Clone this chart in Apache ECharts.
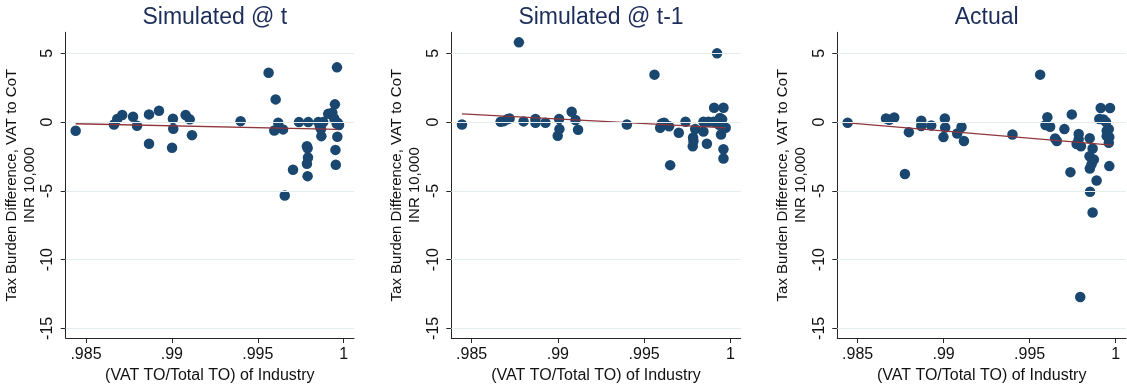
<!DOCTYPE html>
<html>
<head>
<meta charset="utf-8">
<script src="https://cdn.jsdelivr.net/npm/echarts@6/dist/echarts.min.js"></script>
<style>
  html, body { margin: 0; padding: 0; background: #fff; }
  #chart { width: 1127px; height: 385px; }
</style>
</head>
<body>
<div id="chart"></div>
<script>
// panel titles
const titles = ['Simulated @ t', 'Simulated @ t-1', 'Actual'];
const xTicks = [0.985, 0.99, 0.995, 1];
const yTicks = [-15, -10, -5, 0, 5];

// Simulated @ t
const simTx = [.98440, .98663, .98682, .98711, .98774, .98797, .98867, .98867, .98925, .99006, .99008, .99001, .99080, .99104, .99117, .99400, .99563, .99604, .99619, .99596, .99647, .99657, .99705, .99740, .99786, .99790, .99792, .99786, .99790, .99794, .99852, .99862, .99881, .99868, .99870, .99910, .99934, .99949, .99945, .99959, .99973, .99963, .99952, .99954, .99965, .99961];
const simTy = [-0.63, -0.17, 0.22, 0.51, 0.39, -0.27, 0.56, -1.58, 0.82, 0.24, -0.49, -1.87, 0.51, 0.2, -0.95, 0.07, 3.59, 1.65, -0.05, -0.61, -0.53, -5.34, -3.47, 0.0, -1.75, -1.9, -2.57, -3.03, -3.93, 0.0, 0.0, -0.34, 0.0, -0.5, -1.02, 0.6, 0.68, 1.29, 0.27, -0.1, -0.22, -1.07, -2.02, -3.1, -0.05, 3.98];
const simTfit = [[.98440, -0.12], [.99965, -0.53]];

// Simulated @ t-1
const simT1x = [.98444, .98668, .98687, .98706, .98720, .98774, .98801, .98870, .98870, .98928, .99007, .99009, .98999, .99080, .99102, .99117, .99400, .99560, .99923, .99593, .99603, .99616, .99645, .99651, .99701, .99740, .99796, .99784, .99786, .99782, .99844, .99873, .99902, .99844, .99864, .99906, .99960, .99940, .99952, .99946, .99960, .99960, .99973, .99925, .99935];
const simT1y = [-0.17, 0.02, 0.07, 0.2, 0.27, 5.8, 0.05, 0.22, -0.05, -0.05, 0.22, -0.51, -1.0, 0.75, 0.15, -0.56, -0.17, 3.45, 5.0, -0.41, -0.1, -0.05, -0.31, -3.13, -0.78, 0.02, -0.51, -1.12, -1.38, -1.75, 0.02, 0.02, 0.02, -0.68, -1.58, 1.04, 1.04, 0.3, 0.2, -0.9, -1.97, -2.65, -0.41, 0.0, -0.2];
const simT1fit = [[.98444, 0.6], [.99973, -0.42]];

// Actual
const actX = [.98442, .98665, .98684, .98713, .98775, .98798, .98870, .98870, .98928, .99007, .99009, .98999, .99079, .99104, .99118, .99400, .99561, .99603, .99592, .99619, .99648, .99658, .99702, .99745, .99737, .99785, .99785, .99773, .99798, .99794, .99849, .99866, .99848, .99873, .99860, .99850, .99889, .99851, .99866, .99913, .99967, .99905, .99929, .99944, .99948, .99960, .99963, .99960, .99948, .99963];
const actY = [-0.05, 0.27, 0.17, 0.34, -3.77, -0.73, 0.1, -0.29, -0.24, 0.27, -0.39, -1.09, -0.83, -0.36, -1.38, -0.9, 3.45, 0.36, -0.22, -0.34, -1.19, -1.38, -0.51, 0.56, -3.64, -0.87, -1.24, -1.6, -1.75, -12.72, -1.17, -1.92, -2.48, -2.72, -3.06, -3.37, -4.25, -5.07, -6.58, 1.02, 1.02, 0.22, 0.19, 0.0, -0.63, -0.51, -1.09, -1.51, -1.02, -3.2];
const actFit = [[.98442, -0.05], [.99977, -1.68]];

const panels = [
  { x: simTx, y: simTy, fit: simTfit, left: 65.7, width: 288.3 },
  { x: simT1x, y: simT1y, fit: simT1fit, left: 451.3, width: 289.4 },
  { x: actX, y: actY, fit: actFit, left: 837.3, width: 288.7 }
];

const FONT = '"Liberation Sans", Arial, Helvetica, sans-serif';
const NAVY = '#1a476f';
const MAROON = '#90353b';
const AXIS = '#262626';
const GRIDLINE = '#e4eef0';

const chart = echarts.init(document.getElementById('chart'), null, { renderer: 'canvas' });

const option = {
  animation: false,
  backgroundColor: '#fff',
  textStyle: { fontFamily: FONT },
  title: panels.map((p, i) => ({
    text: titles[i],
    left: p.left + p.width / 2,
    top: 1,
    textAlign: 'center',
    textStyle: { fontFamily: FONT, fontSize: 23, fontWeight: 'normal', color: '#1c2d5a' }
  })),
  grid: panels.map(p => ({
    left: p.left,
    width: p.width,
    top: 32.3,
    height: 305.7,
    containLabel: false,
    outerBoundsMode: 'none'
  })),
  xAxis: panels.map((p, i) => ({
    type: 'value',
    gridIndex: i,
    min: 0.98382,
    max: 1.0006,
    name: '(VAT TO/Total TO) of Industry',
    nameLocation: 'middle',
    nameGap: 27,
    nameTextStyle: { fontFamily: FONT, fontSize: 16, color: '#111' },
    axisLine: { show: true, onZero: false, lineStyle: { color: AXIS, width: 1 } },
    axisTick: { show: true, length: 5, customValues: xTicks, lineStyle: { color: AXIS } },
    axisLabel: {
      customValues: xTicks,
      margin: 9,
      fontFamily: FONT,
      fontSize: 16,
      color: '#111',
      formatter: v => (v === 1 ? '1' : String(v).replace(/^0/, ''))
    },
    splitLine: { show: false }
  })),
  yAxis: panels.map((p, i) => ({
    type: 'value',
    gridIndex: i,
    min: -15.7,
    max: 6.53,
    name: 'Tax Burden Difference, VAT to CoT\nINR 10,000',
    nameLocation: 'middle',
    nameGap: 27,
    nameTextStyle: { fontFamily: FONT, fontSize: 15, lineHeight: 18, color: '#111' },
    axisLine: { show: true, onZero: false, lineStyle: { color: AXIS, width: 1 } },
    axisTick: { show: true, length: 5, customValues: yTicks, lineStyle: { color: AXIS } },
    axisLabel: {
      customValues: yTicks,
      rotate: 90,
      margin: 10,
      fontFamily: FONT,
      fontSize: 16,
      color: '#111'
    },
    splitLine: { show: false }
  })),
  series: []
};

panels.forEach((p, i) => {
  // horizontal gridlines at the y ticks
  option.series.push({
    type: 'line',
    xAxisIndex: i,
    yAxisIndex: i,
    data: [],
    silent: true,
    z: 1,
    markLine: {
      silent: true,
      symbol: ['none', 'none'],
      label: { show: false },
      lineStyle: { color: GRIDLINE, width: 1.2, type: 'solid' },
      data: yTicks.map(v => ({ yAxis: v }))
    }
  });
  option.series.push({
    type: 'scatter',
    xAxisIndex: i,
    yAxisIndex: i,
    symbolSize: 10.5,
    itemStyle: { color: NAVY, opacity: 1 },
    z: 3,
    data: p.x.map((xv, k) => [xv, p.y[k]])
  });
  option.series.push({
    type: 'line',
    xAxisIndex: i,
    yAxisIndex: i,
    showSymbol: false,
    symbol: 'none',
    lineStyle: { color: MAROON, width: 1.3 },
    z: 4,
    data: p.fit
  });
});

chart.setOption(option);
</script>
</body>
</html>
